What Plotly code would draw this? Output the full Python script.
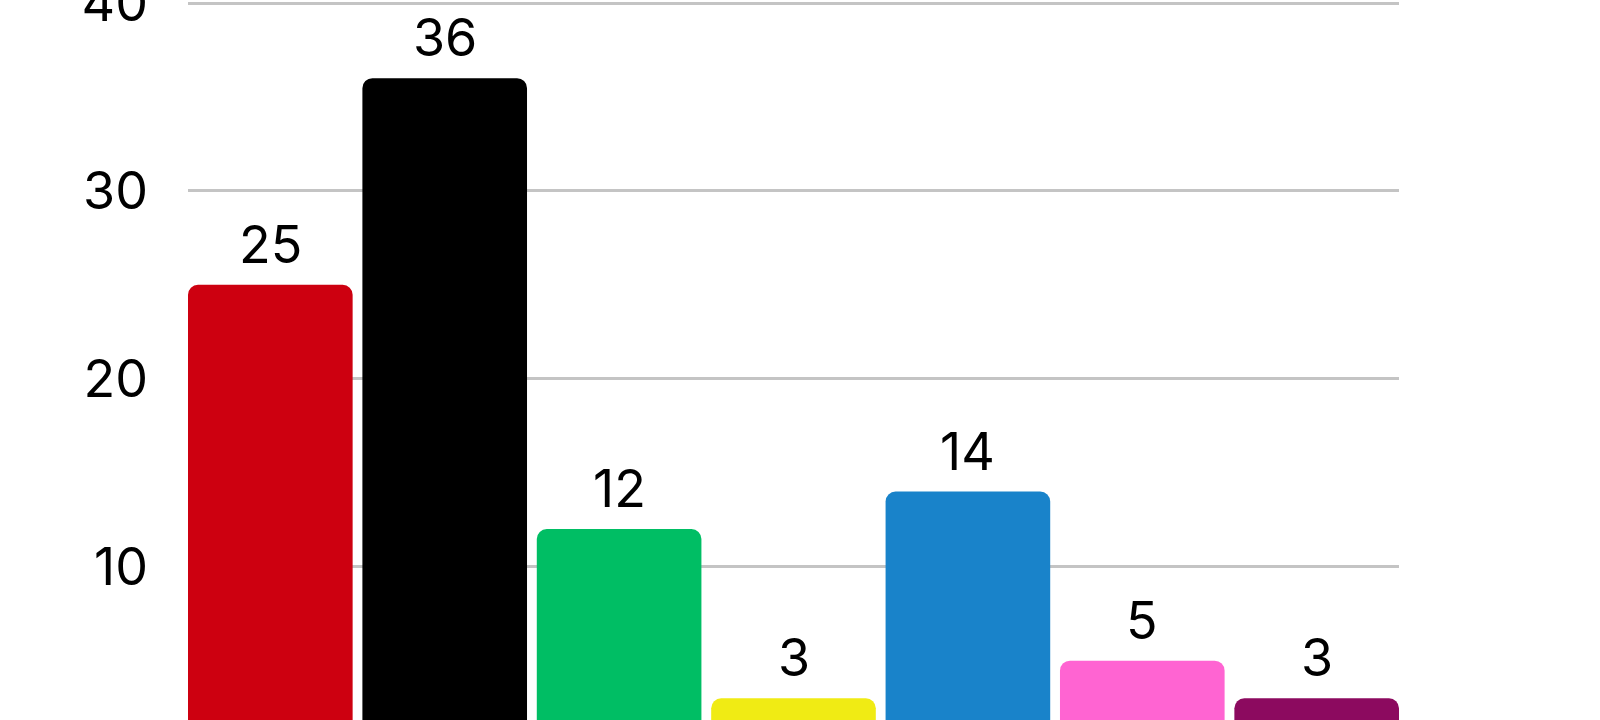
import plotly.graph_objects as go

parties = ["SPD", "CDU", "Grüne", "FDP", "AfD", "BSW", "Linke"]
values = [25, 36, 12, 3, 14, 5, 3]
colors = ["#CD0010", "#000000", "#00BE64", "#F0EB14", "#1983CA", "#FF64D2", "#8C0A5F"]
y_ticks = [10, 20, 30, 40]

FONT = "Inter"
FSIZE = 52

fig = go.Figure()
fig.add_trace(go.Bar(
    x=parties,
    y=values,
    marker=dict(color=colors, line=dict(width=0), cornerradius=10),
    width=0.944,
    hoverinfo="skip",
))

for p, v in zip(parties, values):
    fig.add_annotation(
        x=p, y=v, text=str(v), showarrow=False,
        yanchor="bottom", yshift=7,
        font=dict(family=FONT, size=FSIZE, color="#000000", weight=400),
    )

fig.update_layout(
    width=1600, height=720,
    margin=dict(l=188, r=201, t=0, b=0, autoexpand=False),
    paper_bgcolor="white", plot_bgcolor="white",
    showlegend=False,
    font=dict(family=FONT, color="#000000"),
    xaxis=dict(
        type="category",
        range=[-0.472, 6.472],
        showticklabels=False, showgrid=False, zeroline=False,
        ticks="", showline=False, automargin=False,
    ),
    yaxis=dict(
        range=[1.84, 40.16],
        tickvals=y_ticks,
        ticktext=[str(t) for t in y_ticks],
        showgrid=True, gridcolor="#C4C4C4", gridwidth=3,
        zeroline=False, showline=False, ticks="",
        tickfont=dict(family=FONT, size=FSIZE, color="#000000", weight=400),
        ticklabelstandoff=39, automargin=False,
        ticklabeloverflow="allow",
    ),
)

fig.write_html(
    "out.html",
    config={"displayModeBar": False},
    post_script="document.body.style.margin='0px';document.body.style.overflow='hidden';",
)
